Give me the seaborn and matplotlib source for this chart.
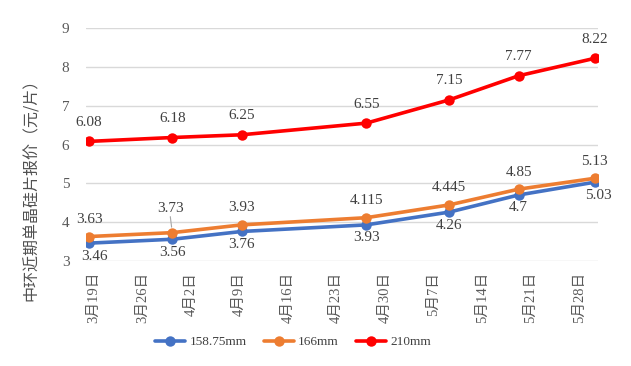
import pandas as pd
import numpy as np
import matplotlib
matplotlib.use('Agg')
import matplotlib.pyplot as plt
import seaborn as sns

# price quote dates and prices (元/片)
dates = ['2021-03-19', '2021-03-31', '2021-04-10', '2021-04-28',
         '2021-05-10', '2021-05-20', '2021-05-31']
price_158 = [3.46, 3.56, 3.76, 3.93, 4.26, 4.7, 5.03]
price_166 = [3.63, 3.73, 3.93, 4.115, 4.445, 4.85, 5.13]
price_210 = [6.08, 6.18, 6.25, 6.55, 7.15, 7.77, 8.22]
series_names = ['158.75mm', '166mm', '210mm']
tick_dates = pd.date_range('2021-03-19', '2021-05-28', freq='7D')
y_label = '中环近期单晶硅片报价（元/片）'

colors = ['#4472C4', '#ED7D31', '#FF0000']

df = pd.DataFrame({
    'date': pd.to_datetime(dates * 3),
    'price': price_158 + price_166 + price_210,
    'size': np.repeat(series_names, len(dates)),
})

sns.set_theme(style='white')
plt.rcParams['font.family'] = ['Liberation Serif', 'Noto Sans CJK SC', 'DejaVu Sans']

fig = plt.figure(figsize=(6.31, 3.66), dpi=100)
ax = fig.add_axes([86 / 631, 1 - 261 / 366, 512 / 631, 233 / 366])

sns.lineplot(data=df, x='date', y='price', hue='size', hue_order=series_names,
             palette=colors, marker='o', markersize=7.5, markeredgewidth=0,
             linewidth=2.6, ax=ax, legend=True)

ax.set_ylim(3, 9)
ax.set_yticks(range(3, 10))
d0 = pd.Timestamp(dates[0]) - pd.Timedelta(hours=11)
d1 = pd.Timestamp(dates[-1]) + pd.Timedelta(hours=11)
ax.set_xlim(d0, d1)
# excel puts the date labels a bit right of the day itself
ax.set_xticks(tick_dates + pd.Timedelta(hours=17))
ax.set_xticklabels([f'{d.month}月{d.day}日' for d in tick_dates],
                   rotation=90, fontsize=10.5, color='#595959', va='top')
ax.tick_params(axis='x', length=0, pad=8)
ax.tick_params(axis='y', length=0, pad=12, labelsize=11, labelcolor='#595959')
ax.grid(axis='y', color='#D9D9D9', linewidth=1)
ax.grid(axis='x', visible=False)
for s in ax.spines.values():
    s.set_visible(False)
ax.set_xlabel('')
ax.set_ylabel('')

# data labels
offsets = {'158.75mm': -13, '166mm': 17, '210mm': 19}
for name, vals in zip(series_names, [price_158, price_166, price_210]):
    for i, (d, v) in enumerate(zip(pd.to_datetime(dates), vals)):
        dx, dy = 0, offsets[name]
        if name == '158.75mm' and i == 0:
            dx = 5
        if name == '158.75mm' and i == len(vals) - 1:
            dx = 4
        if name == '166mm' and i == 1:
            dx, dy = -2, 24
        txt = f'{v:g}'
        ax.annotate(txt, (d, v), xytext=(dx, dy), textcoords='offset pixels',
                    ha='center', va='center', fontsize=11, color='#404040',
                    annotation_clip=False)
        if name == '166mm' and i == 1:
            ax.annotate('', (d, v), xytext=(-2, 16), textcoords='offset pixels',
                        arrowprops=dict(arrowstyle='-', color='#A6A6A6', lw=0.8,
                                        shrinkA=0, shrinkB=4))

fig.text(31 / 631, 1 - 186 / 366, y_label, rotation=90, ha='center', va='center',
         fontsize=11.5, color='#505050', family=['Noto Sans CJK SC', 'DejaVu Sans'])

handles, labels = ax.get_legend_handles_labels()
ax.get_legend().remove()
fig.legend(handles, labels, loc='center', bbox_to_anchor=(293 / 631, 1 - 342 / 366),
           ncol=3, frameon=False, fontsize=9.5, handlelength=2.3, columnspacing=1.3,
           handletextpad=0.3, labelcolor='#404040')

fig.savefig('out.png', dpi=100)
